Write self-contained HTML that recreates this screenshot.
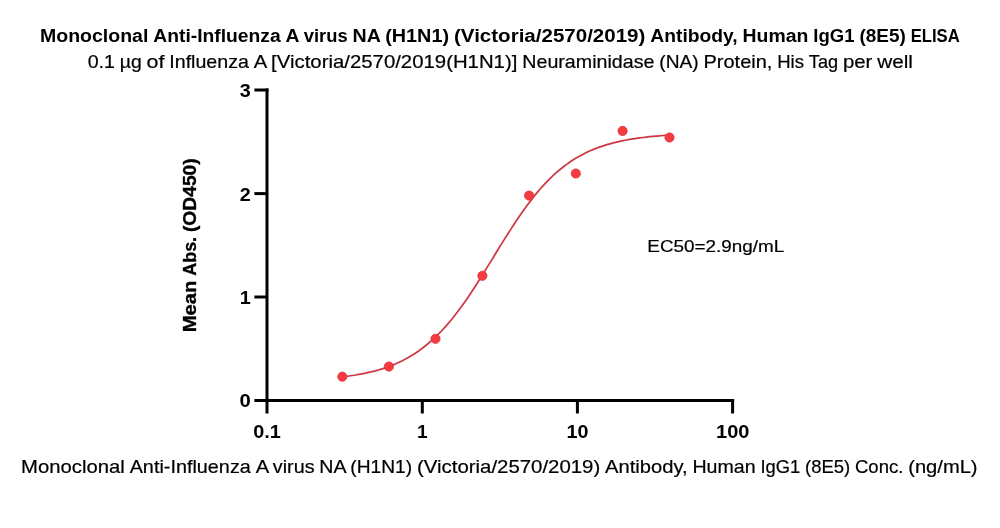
<!DOCTYPE html>
<html><head><meta charset="utf-8"><style>
html,body{margin:0;padding:0;background:#fff;}
svg{display:block;}
text{font-family:"Liberation Sans",Arial,sans-serif;fill:#000;}
.b{font-weight:bold;}
.r{stroke:#000;stroke-width:0.2px;}
</style></head><body>
<svg width="1000" height="528" viewBox="0 0 1000 528">
<rect width="1000" height="528" fill="#fff"/>
<text font-size="18.7" class="b" y="41.8"><tspan x="39.97" textLength="108.40" lengthAdjust="spacingAndGlyphs">Monoclonal</tspan> <tspan x="153.30" textLength="127.36" lengthAdjust="spacingAndGlyphs">Anti-Influenza</tspan> <tspan x="285.61" textLength="13.24" lengthAdjust="spacingAndGlyphs">A</tspan> <tspan x="303.78" textLength="43.89" lengthAdjust="spacingAndGlyphs">virus</tspan> <tspan x="352.61" textLength="27.62" lengthAdjust="spacingAndGlyphs">NA</tspan> <tspan x="385.17" textLength="63.91" lengthAdjust="spacingAndGlyphs">(H1N1)</tspan> <tspan x="454.01" textLength="191.34" lengthAdjust="spacingAndGlyphs">(Victoria/2570/2019)</tspan> <tspan x="650.30" textLength="87.37" lengthAdjust="spacingAndGlyphs">Antibody,</tspan> <tspan x="742.60" textLength="65.76" lengthAdjust="spacingAndGlyphs">Human</tspan> <tspan x="813.30" textLength="41.16" lengthAdjust="spacingAndGlyphs">IgG1</tspan> <tspan x="859.40" textLength="46.40" lengthAdjust="spacingAndGlyphs">(8E5)</tspan> <tspan x="910.74" textLength="49.00" lengthAdjust="spacingAndGlyphs">ELISA</tspan></text>
<text font-size="17.9" class="r" y="67.8"><tspan x="87.66" textLength="27.22" lengthAdjust="spacingAndGlyphs">0.1</tspan> <tspan x="119.73" textLength="21.94" lengthAdjust="spacingAndGlyphs">µg</tspan> <tspan x="146.53" textLength="17.90" lengthAdjust="spacingAndGlyphs">of</tspan> <tspan x="169.28" textLength="79.67" lengthAdjust="spacingAndGlyphs">Influenza</tspan> <tspan x="253.81" textLength="12.44" lengthAdjust="spacingAndGlyphs">A</tspan> <tspan x="271.11" textLength="246.28" lengthAdjust="spacingAndGlyphs">[Victoria/2570/2019(H1N1)]</tspan> <tspan x="522.25" textLength="132.23" lengthAdjust="spacingAndGlyphs">Neuraminidase</tspan> <tspan x="659.34" textLength="39.35" lengthAdjust="spacingAndGlyphs">(NA)</tspan> <tspan x="703.54" textLength="68.84" lengthAdjust="spacingAndGlyphs">Protein,</tspan> <tspan x="777.24" textLength="26.73" lengthAdjust="spacingAndGlyphs">His</tspan> <tspan x="808.83" textLength="29.21" lengthAdjust="spacingAndGlyphs">Tag</tspan> <tspan x="842.90" textLength="29.48" lengthAdjust="spacingAndGlyphs">per</tspan> <tspan x="877.24" textLength="35.74" lengthAdjust="spacingAndGlyphs">well</tspan></text>
<text font-size="17.9" class="r" y="472.6"><tspan x="21.09" textLength="103.72" lengthAdjust="spacingAndGlyphs">Monoclonal</tspan> <tspan x="129.65" textLength="121.18" lengthAdjust="spacingAndGlyphs">Anti-Influenza</tspan> <tspan x="255.66" textLength="12.38" lengthAdjust="spacingAndGlyphs">A</tspan> <tspan x="272.88" textLength="41.64" lengthAdjust="spacingAndGlyphs">virus</tspan> <tspan x="319.35" textLength="26.19" lengthAdjust="spacingAndGlyphs">NA</tspan> <tspan x="350.37" textLength="61.79" lengthAdjust="spacingAndGlyphs">(H1N1)</tspan> <tspan x="417.00" textLength="183.18" lengthAdjust="spacingAndGlyphs">(Victoria/2570/2019)</tspan> <tspan x="605.02" textLength="82.59" lengthAdjust="spacingAndGlyphs">Antibody,</tspan> <tspan x="692.44" textLength="63.14" lengthAdjust="spacingAndGlyphs">Human</tspan> <tspan x="760.42" textLength="39.80" lengthAdjust="spacingAndGlyphs">IgG1</tspan> <tspan x="805.06" textLength="45.10" lengthAdjust="spacingAndGlyphs">(8E5)</tspan> <tspan x="854.99" textLength="48.37" lengthAdjust="spacingAndGlyphs">Conc.</tspan> <tspan x="908.20" textLength="69.39" lengthAdjust="spacingAndGlyphs">(ng/mL)</tspan></text>
<text font-size="17.1" class="r" y="252.2"><tspan x="647.31" textLength="137.01" lengthAdjust="spacingAndGlyphs">EC50=2.9ng/mL</tspan></text>
<g class="b" stroke="#000" stroke-width="0.35" font-size="18" lengthAdjust="spacingAndGlyphs" transform="translate(195.6,330.8) rotate(-90)">
<text y="0"><tspan x="-1.50" textLength="51.75" lengthAdjust="spacingAndGlyphs">Mean</tspan> <tspan x="55.11" textLength="38.77" lengthAdjust="spacingAndGlyphs">Abs.</tspan> <tspan x="98.73" textLength="73.82" lengthAdjust="spacingAndGlyphs">(OD450)</tspan></text>
</g>
<g class="b" font-size="18" text-anchor="end">
<text x="250.7" y="96.8" textLength="11" lengthAdjust="spacingAndGlyphs">3</text>
<text x="250.7" y="200.7" textLength="11" lengthAdjust="spacingAndGlyphs">2</text>
<text x="250.7" y="304" textLength="11" lengthAdjust="spacingAndGlyphs">1</text>
<text x="250.8" y="407.2" textLength="11.3" lengthAdjust="spacingAndGlyphs">0</text>
</g>
<g class="b" font-size="18" text-anchor="middle">
<text x="267" y="437.8" textLength="27.6" lengthAdjust="spacingAndGlyphs">0.1</text>
<text x="422.2" y="437.8" textLength="10.6" lengthAdjust="spacingAndGlyphs">1</text>
<text x="577.6" y="437.8" textLength="22" lengthAdjust="spacingAndGlyphs">10</text>
<text x="732.7" y="437.8" textLength="33.4" lengthAdjust="spacingAndGlyphs">100</text>
</g>
<g stroke="#000" stroke-width="3" fill="none" stroke-linecap="butt">
<path d="M267 88.5 V413.5"/>
<path d="M254.4 400.5 H734.1"/>
<path d="M254.4 90 H268.5"/>
<path d="M254.4 193.6 H267"/>
<path d="M254.4 297 H267"/>
<path d="M422.3 400.5 V413.5"/>
<path d="M577.4 400.5 V413.5"/>
<path d="M732.6 399 V413.5"/>
</g>
<polyline fill="none" stroke="#cc3843" stroke-width="1.75" points="342.3,376.9 345.6,376.5 348.9,376.0 352.2,375.5 355.5,375.0 358.8,374.4 362.1,373.8 365.4,373.2 368.7,372.4 372.0,371.6 375.4,370.8 378.7,369.9 382.0,368.9 385.3,367.8 388.6,366.6 391.9,365.4 395.2,364.0 398.5,362.5 401.8,361.0 405.1,359.3 408.4,357.5 411.7,355.5 415.0,353.4 418.3,351.2 421.6,348.8 424.9,346.2 428.2,343.5 431.5,340.7 434.8,337.6 438.1,334.4 441.5,331.0 444.8,327.4 448.1,323.6 451.4,319.7 454.7,315.5 458.0,311.2 461.3,306.8 464.6,302.2 467.9,297.4 471.2,292.5 474.5,287.5 477.8,282.3 481.1,277.1 484.4,271.8 487.7,266.4 491.0,261.1 494.3,255.7 497.6,250.3 500.9,244.9 504.2,239.6 507.6,234.3 510.9,229.1 514.2,224.0 517.5,219.1 520.8,214.2 524.1,209.5 527.4,205.0 530.7,200.6 534.0,196.4 537.3,192.4 540.6,188.5 543.9,184.9 547.2,181.4 550.5,178.0 553.8,174.9 557.1,171.9 560.4,169.2 563.7,166.5 567.0,164.1 570.3,161.8 573.7,159.6 577.0,157.6 580.3,155.7 583.6,154.0 586.9,152.3 590.2,150.8 593.5,149.4 596.8,148.1 600.1,146.9 603.4,145.8 606.7,144.7 610.0,143.8 613.3,142.9 616.6,142.1 619.9,141.3 623.2,140.6 626.5,140.0 629.8,139.4 633.1,138.8 636.4,138.3 639.8,137.9 643.1,137.5 646.4,137.1 649.7,136.7 653.0,136.4 656.3,136.1 659.6,135.8 662.9,135.5 666.2,135.3 669.5,135.1"/>
<g fill="#f53b41" stroke="#dc3039" stroke-width="0.8">
<circle cx="342.3" cy="376.7" r="4.6"/>
<circle cx="388.9" cy="366.6" r="4.6"/>
<circle cx="435.5" cy="338.8" r="4.6"/>
<circle cx="482.4" cy="275.8" r="4.6"/>
<circle cx="529.1" cy="195.6" r="4.6"/>
<circle cx="575.8" cy="173.5" r="4.6"/>
<circle cx="622.6" cy="130.9" r="4.6"/>
<circle cx="669.5" cy="137.5" r="4.6"/>
</g>
</svg>
</body></html>
